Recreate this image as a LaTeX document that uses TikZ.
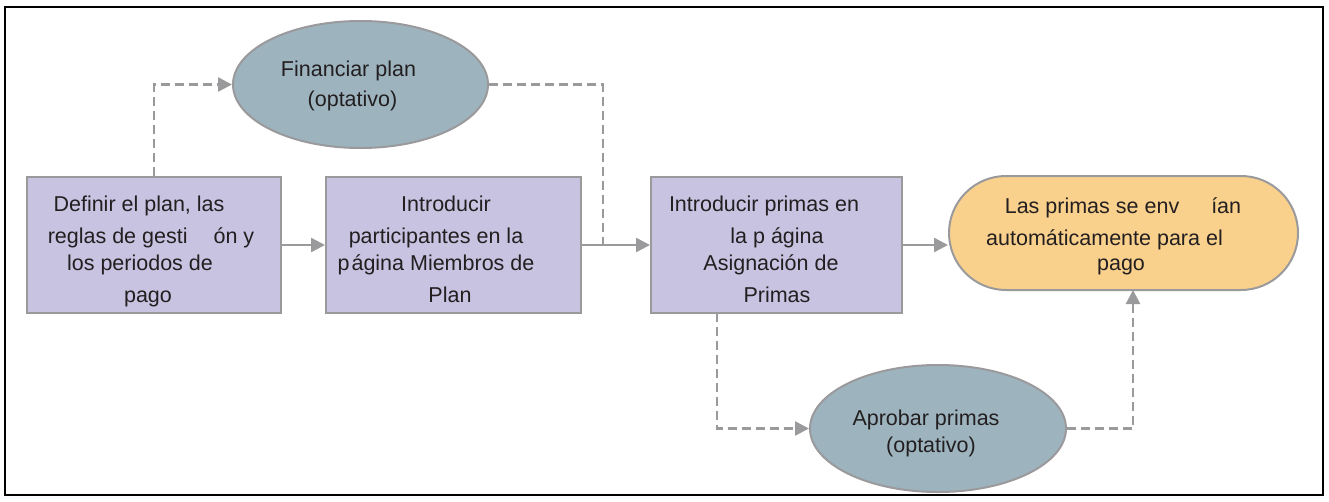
\documentclass[tikz,border=0pt]{standalone}
\usepackage{fontspec}
\setmainfont{Liberation Sans}
\usetikzlibrary{arrows.meta,shapes.geometric}
\definecolor{boxfill}{HTML}{C7C3E1}
\definecolor{ellfill}{HTML}{9DB4BF}
\definecolor{termfill}{HTML}{F9D18C}
\definecolor{edgegray}{HTML}{9A9A9C}
\definecolor{txt}{HTML}{231F20}
\begin{document}
\begin{tikzpicture}[x=1pt,y=-1pt,
  shapeline/.style={draw=edgegray, line width=2pt, inner sep=0pt},
  procbox/.style={shapeline, fill=boxfill, rectangle, minimum height=136pt},
  optell/.style={shapeline, fill=ellfill, ellipse, minimum width=255pt, minimum height=127pt},
  termbox/.style={shapeline, fill=termfill, rectangle, rounded corners=57pt, minimum width=349pt, minimum height=114pt},
  txtline/.style={anchor=base, font=\fontsize{21.5}{26}\selectfont, text=txt, inner sep=0pt},
  flow/.style={draw=edgegray, line width=2.5pt, -{Triangle[length=14pt,width=14pt]}},
  opt/.style={flow, dash pattern=on 9pt off 5pt},
  optline/.style={draw=edgegray, line width=2.5pt, dash pattern=on 9pt off 5pt},
]
\useasboundingbox (0,0) rectangle (1329,501);
\draw[black, line width=2pt] (5,7) rectangle (1323,495);

% shapes
\node[procbox, minimum width=254pt] (b1) at (154,245) {};
\node[procbox, minimum width=255pt] (b2) at (453.5,245) {};
\node[procbox, minimum width=251pt] (b3) at (776.5,245) {};
\node[termbox] (o) at (1123.5,233) {};
\node[optell] (e1) at (360.5,84.5) {};
\node[optell, minimum width=256pt] (e2) at (938,428.5) {};

% texts
\node[txtline] (b1a) at (139,211) {Definir el plan, las};
\node[txtline] (b1b) at (151,243) {reglas de gesti\hspace{26pt}ón y};
\node[txtline] (b1c) at (140,270) {los periodos de};
\node[txtline] (b1d) at (148,302) {pago};

\node[txtline] (b2a) at (446,211) {Introducir};
\node[txtline] (b2b) at (436,243) {participantes en la};
\node[txtline] (b2c) at (436,270) {p\hspace{2pt}ágina Miembros de};
\node[txtline] (b2d) at (450,302) {Plan};

\node[txtline] (b3a) at (764,211) {Introducir primas en};
\node[txtline] (b3b) at (777,243) {la p ágina};
\node[txtline] (b3c) at (771,270) {Asignación de};
\node[txtline] (b3d) at (777,302) {Primas};

\node[txtline] (oa) at (1123,213) {Las primas se env\hspace{32pt}ían};
\node[txtline] (ob) at (1104.5,245) {automáticamente para el};
\node[txtline] (oc) at (1121,270) {pago};

\node[txtline] (e1a) at (348.5,76) {Financiar plan};
\node[txtline] (e1b) at (352.5,106) {(optativo)};

\node[txtline] (e2a) at (926,425) {Aprobar primas};
\node[txtline] (e2b) at (931,452) {(optativo)};

% junction / free ends
\coordinate (j1) at (603,245);
\coordinate (b3s) at (717,313);
\coordinate (oin) at (1133,290);

% connectors
\draw[flow] (b1.east) -- (b2.west);
\draw[flow] (b2.east) -- (b3.west);
\draw[flow] (b3.east) -- (b3.east -| o.west);
\draw[opt] (b1.north) |- (e1.west);
\draw[optline] (e1.east) -| (j1);
\draw[opt] (b3s) |- (e2.west);
\draw[opt] (e2.east) -| (oin);
\end{tikzpicture}
\end{document}
